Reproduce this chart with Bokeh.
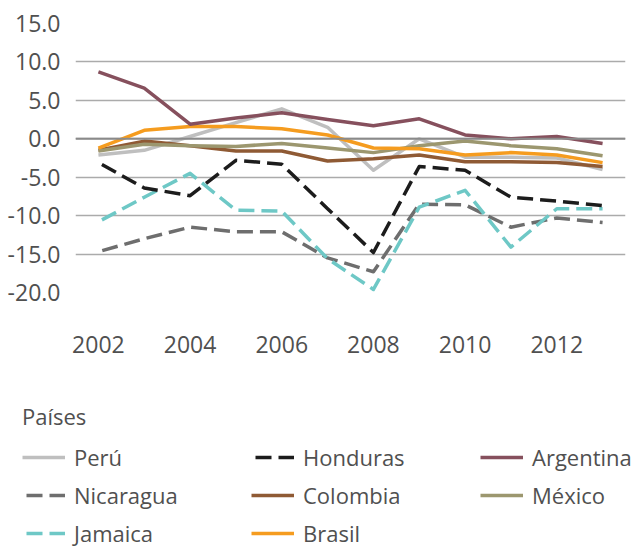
from bokeh.plotting import figure
from bokeh.layouts import column, row
from bokeh.models import (Range1d, FixedTicker, NumeralTickFormatter, Legend,
                          LegendItem, Span)
from bokeh.embed import file_html
from bokeh.resources import INLINE

years = list(range(2002, 2014))
x_ticks = [2002, 2004, 2006, 2008, 2010, 2012]
y_ticks = [-20, -15, -10, -5, 0, 5, 10, 15]

peru = [-2.1, -1.5, 0.3, 2.1, 3.9, 1.5, -4.1, 0.0, -2.4, -2.4, -2.5, -4.0]
honduras = [-3.1, -6.4, -7.4, -2.8, -3.3, -9.1, -14.8, -3.6, -4.1, -7.6, -8.1, -8.7]
argentina = [8.7, 6.6, 1.9, 2.7, 3.4, 2.5, 1.7, 2.6, 0.5, 0.0, 0.3, -0.6]
nicaragua = [-14.7, -13.0, -11.5, -12.1, -12.1, -15.5, -17.3, -8.5, -8.6, -11.5, -10.3, -10.9]
colombia = [-1.5, -0.3, -0.9, -1.6, -1.6, -2.9, -2.6, -2.1, -3.0, -3.0, -3.1, -3.6]
mexico = [-1.6, -0.7, -0.9, -1.0, -0.6, -1.2, -1.8, -0.9, -0.3, -0.9, -1.3, -2.2]
jamaica = [-10.8, -7.6, -4.5, -9.3, -9.4, -15.6, -19.6, -8.9, -6.7, -14.1, -9.1, -9.1]
brasil = [-1.2, 1.1, 1.6, 1.6, 1.3, 0.5, -1.2, -1.3, -2.1, -1.8, -2.1, -3.1]

FONT = "Open Sans"
TXT = "#505050"
DASH = "16 7"

p = figure(width=635, height=390, output_backend="svg", toolbar_location=None,
           x_range=Range1d(2001.5, 2013.5), y_range=Range1d(-20, 15))
p.min_border_left = 75
p.min_border_right = 10
p.min_border_top = 23
p.min_border_bottom = 98
p.outline_line_color = None

for ax in (p.xaxis[0], p.yaxis[0]):
    ax.axis_line_color = None
    ax.major_tick_line_color = None
    ax.minor_tick_line_color = None
    ax.major_label_text_font = FONT
    ax.major_label_text_font_size = "23px"
    ax.major_label_text_color = TXT
p.xaxis.ticker = FixedTicker(ticks=x_ticks)
p.yaxis.ticker = FixedTicker(ticks=y_ticks)
p.yaxis.formatter = NumeralTickFormatter(format="0.0")
p.xaxis.major_label_standoff = 37
p.yaxis.major_label_standoff = 9

p.xgrid.grid_line_color = None
p.ygrid.grid_line_color = "#ababab"
p.ygrid.grid_line_width = 1.5
p.add_layout(Span(location=0, dimension="width", line_color="#8a8a8a", line_width=2))

series = [
    ("Perú", peru, "#bfbfbf", "solid"),
    ("Nicaragua", nicaragua, "#6e6e6e", DASH),
    ("Jamaica", jamaica, "#6ec8c6", DASH),
    ("Honduras", honduras, "#1c1c1c", DASH),
    ("Colombia", colombia, "#8f5a34", "solid"),
    ("México", mexico, "#9c976f", "solid"),
    ("Brasil", brasil, "#f59c1f", "solid"),
    ("Argentina", argentina, "#86505d", "solid"),
]
for name, vals, col, dash in series:
    p.line(years, vals, line_color=col, line_width=3.5, line_dash=dash,
           line_join="round", line_dash_offset=19 if dash != "solid" else 0)

# legend panel (below the chart)
lg = figure(width=635, height=157, output_backend="svg", toolbar_location=None,
            x_axis_type=None, y_axis_type=None, min_border=0,
            x_range=Range1d(0, 1), y_range=Range1d(0, 1))
lg.outline_line_color = None
lg.xgrid.grid_line_color = None
lg.ygrid.grid_line_color = None

styles = {name: (col, dash) for name, vals, col, dash in series}
order = ["Perú", "Honduras", "Argentina", "Nicaragua", "Colombia", "México",
         "Jamaica", "Brasil"]
nan = float("nan")
items = []
for n in order:
    col, dash = styles[n]
    r = lg.line([nan], [nan], line_color=col, line_width=3.5, line_dash=dash,
                line_dash_offset=19 if dash != "solid" else 0)
    items.append(LegendItem(label=n, renderers=[r]))

legend = Legend(items=items, orientation="horizontal", ncols=3,
                location=(22, -1), title="Países")
legend.title_text_font = FONT
legend.title_text_font_size = "22px"
legend.title_text_font_style = "normal"
legend.title_text_color = TXT
legend.title_standoff = 11
legend.label_text_font = FONT
legend.label_text_font_size = "22px"
legend.label_text_color = TXT
legend.glyph_width = 43
legend.glyph_height = 30
legend.label_height = 30
legend.label_width = 169
legend.label_standoff = 9
legend.spacing = 8
legend.padding = 0
legend.margin = 0
legend.border_line_alpha = 0
legend.background_fill_alpha = 0
lg.add_layout(legend, "center")

layout = column(p, row(lg), spacing=0)
open("out.html", "w").write(file_html(layout, INLINE))
